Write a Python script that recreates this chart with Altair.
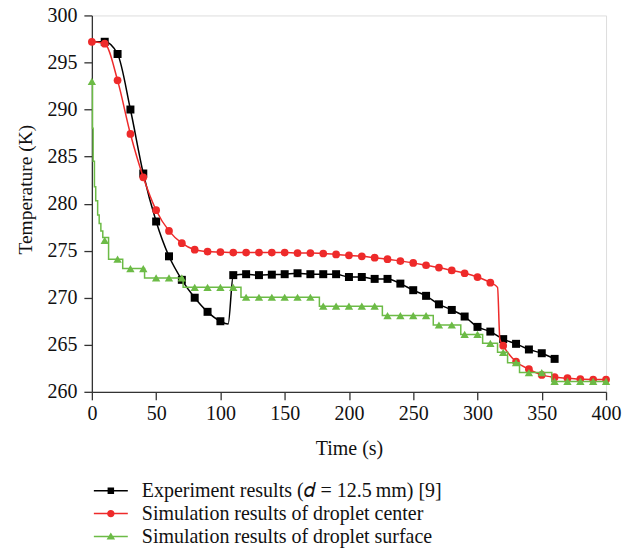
import altair as alt
import pandas as pd

# ---------------- data ----------------
# Experiment results (black squares); t=0 and t=106 are line vertices only
exp_t = [0, 10, 20, 30, 40, 50, 60, 70, 80, 90, 100, 106, 110, 120, 130, 140,
         150, 160, 170, 180, 190, 200, 210, 220, 230, 240, 250, 260, 270, 280,
         290, 300, 310, 320, 330, 340, 350, 360]
exp_T = [297.2, 297.2, 295.9, 290.0, 283.2, 278.1, 274.4, 271.9, 270.0, 268.5,
         267.5, 267.2, 272.4, 272.5, 272.4, 272.45, 272.5, 272.6, 272.5, 272.5,
         272.5, 272.2, 272.2, 272.0, 272.0, 271.5, 270.8, 270.2, 269.3, 268.7,
         268.0, 266.9, 266.4, 265.6, 265.1, 264.5, 264.1, 263.5]
exp_marker = [False, True, True, True, True, True, True, True, True, True,
              True, False] + [True] * 26

# Simulation, droplet center (red circles); 315.6 and 317.4 are line vertices only
cen_t = [0, 10, 20, 30, 40, 50, 60, 70, 80, 90, 100, 110, 120, 130, 140, 150,
         160, 170, 180, 190, 200, 210, 220, 230, 240, 250, 260, 270, 280, 290,
         300, 310, 315.6, 317.4, 320, 330, 340, 350, 360, 370, 380, 390, 400]
cen_T = [297.2, 297.0, 293.1, 287.4, 282.8, 279.3, 277.1, 275.8, 275.1, 274.9,
         274.85, 274.8, 274.8, 274.8, 274.8, 274.8, 274.75, 274.75, 274.7, 274.6,
         274.5, 274.4, 274.25, 274.1, 273.9, 273.7, 273.45, 273.2, 272.9, 272.6,
         272.2, 271.6, 271.1, 265.6, 264.9, 263.2, 262.4, 261.8, 261.55, 261.45,
         261.35, 261.3, 261.3]
cen_marker = [True] * 32 + [False, False] + [True] * 9

# Simulation, droplet surface (green triangles): stepped line + markers
surf_line_t = [0, 0.5, 1, 2, 3, 4.5, 5.7, 7, 8.5, 13, 24, 41, 71, 116, 177, 226,
               265.6, 287, 304, 315.6, 323.4, 332.7, 357.8, 400]
surf_line_T = [293.0, 288.0, 284.5, 281.8, 280.3, 278.8, 277.9, 277.1, 276.4,
               274.1, 273.1, 272.1, 271.1, 270.05, 269.1, 268.1, 267.1, 266.1,
               265.15, 264.2, 263.1, 262.05, 261.1, 261.1]
surf_mk_t = list(range(0, 401, 10))
surf_mk_T = [293.0, 276.1, 274.1, 273.1, 273.1, 272.1, 272.1, 272.1, 271.1, 271.1,
             271.1, 271.1, 270.05, 270.05, 270.05, 270.05, 270.05, 270.05, 269.1,
             269.1, 269.1, 269.1, 269.1, 268.1, 268.1, 268.1, 268.1, 267.1, 267.1,
             266.1, 266.1, 265.15, 264.2, 263.1, 262.05, 262.05, 261.1, 261.1,
             261.1, 261.1, 261.1]

series_names = ["Experiment results (\U0001D451 = 12.5\u2009mm) [9]",
                "Simulation results of droplet center",
                "Simulation results of droplet surface"]
series_colors = ["#000000", "#EE2A2A", "#6CBB46"]

x_ticks = [v * 25 for v in range(17)]
y_ticks = [260 + v * 2.5 for v in range(17)]

# ---------------- tables ----------------
exp_df = pd.DataFrame({"t": exp_t, "T": exp_T, "m": exp_marker})
cen_df = pd.DataFrame({"t": cen_t, "T": cen_T, "m": cen_marker})
surf_line_df = pd.DataFrame({"t": surf_line_t, "T": surf_line_T})
surf_mk_df = pd.DataFrame({"t": surf_mk_t, "T": surf_mk_T})
legend_df = pd.DataFrame({"series": series_names})

FONT = "Liberation Serif"

xscale = alt.Scale(domain=[0, 400], nice=False, zero=False)
yscale = alt.Scale(domain=[260, 300], nice=False, zero=False)

xaxis = alt.Axis(
    values=x_ticks, title="Time (s)", grid=False,
    labelExpr="datum.value % 50 === 0 ? datum.label : ''",
    tickSize={"condition": {"test": "datum.value % 50 === 0", "value": 8}, "value": 5},
    labelFont=FONT, labelFontSize=20, labelColor="#111", labelPadding=4,
    titleFont=FONT, titleFontSize=20, titleFontWeight="normal", titleColor="#111",
    titleY=57, titleBaseline="middle",
    domainColor="#333", tickColor="#333", domainWidth=1.3, tickWidth=1.3,
    labelFlush=False, labelOverlap=False,
)
yaxis = alt.Axis(
    values=y_ticks, title="Temperature (K)", grid=False,
    labelExpr="datum.value % 5 === 0 ? datum.label : ''",
    tickSize={"condition": {"test": "datum.value % 5 === 0", "value": 8}, "value": 5},
    labelFont=FONT, labelFontSize=20, labelColor="#111", labelPadding=7,
    titleFont=FONT, titleFontSize=19.5, titleFontWeight="normal", titleColor="#111",
    titleX=-66, titleY=174, titleBaseline="middle",
    domainColor="#333", tickColor="#333", domainWidth=1.3, tickWidth=1.3,
    labelFlush=False, labelOverlap=False,
)

X = alt.X("t:Q", scale=xscale, axis=xaxis)
Y = alt.Y("T:Q", scale=yscale, axis=yaxis)

exp_line = alt.Chart(exp_df).mark_line(
    color=series_colors[0], strokeWidth=1.5, interpolate="monotone"
).encode(x=X, y=Y)
exp_pts = alt.Chart(exp_df).transform_filter("datum.m").mark_point(
    shape="square", filled=True, opacity=1, size=64, color=series_colors[0]
).encode(x="t:Q", y="T:Q")

cen_line = alt.Chart(cen_df).mark_line(
    color=series_colors[1], strokeWidth=1.5, interpolate="monotone"
).encode(x="t:Q", y="T:Q")
cen_pts = alt.Chart(cen_df).transform_filter("datum.m").mark_point(
    shape="circle", filled=True, opacity=1, size=60, color=series_colors[1]
).encode(x="t:Q", y="T:Q")

surf_line = alt.Chart(surf_line_df).mark_line(
    color=series_colors[2], strokeWidth=1.5, interpolate="step-after"
).encode(x="t:Q", y="T:Q")
surf_pts = alt.Chart(surf_mk_df).mark_point(
    shape="triangle-up", filled=True, opacity=1, size=70, color=series_colors[2]
).encode(x="t:Q", y="T:Q")

# legend-only layer: symbols are a short line with the marker on it
bar = "M-3.4,-0.15H3.4V0.15H-3.4Z"
legend_paths = [
    bar + "M-0.65,-0.65H0.65V0.65H-0.65Z",
    bar + "M0.75,0A0.75,0.75 0 1,1 -0.75,0A0.75,0.75 0 1,1 0.75,0Z",
    bar + "M0,-0.8L0.85,0.6L-0.85,0.6Z",
]
legend_layer = alt.Chart(legend_df).transform_filter("false").mark_point(
    filled=True, opacity=1
).encode(
    x=alt.value(0), y=alt.value(0),
    color=alt.Color("series:N", scale=alt.Scale(domain=series_names, range=series_colors),
                    legend=alt.Legend(
                        title=None, orient="none", legendX=9, legendY=466,
                        direction="vertical", columns=1,
                        labelFont=FONT, labelFontSize=20, labelColor="#111",
                        labelLimit=0, labelOffset=21, rowPadding=3,
                        symbolSize=100, symbolStrokeWidth=0, symbolOpacity=1,
                    )),
    shape=alt.Shape("series:N", scale=alt.Scale(domain=series_names, range=legend_paths)),
)

chart = alt.layer(
    exp_line, exp_pts, cen_line, cen_pts, surf_line, surf_pts, legend_layer
).properties(
    width=515, height=377,
    autosize=alt.AutoSizeParams(type="none"),
    padding={"left": 84, "top": 7, "right": 22, "bottom": 156},
).configure_view(stroke=None).configure(background="white")

chart.save("out.html", embed_options={"renderer": "svg", "actions": False})
